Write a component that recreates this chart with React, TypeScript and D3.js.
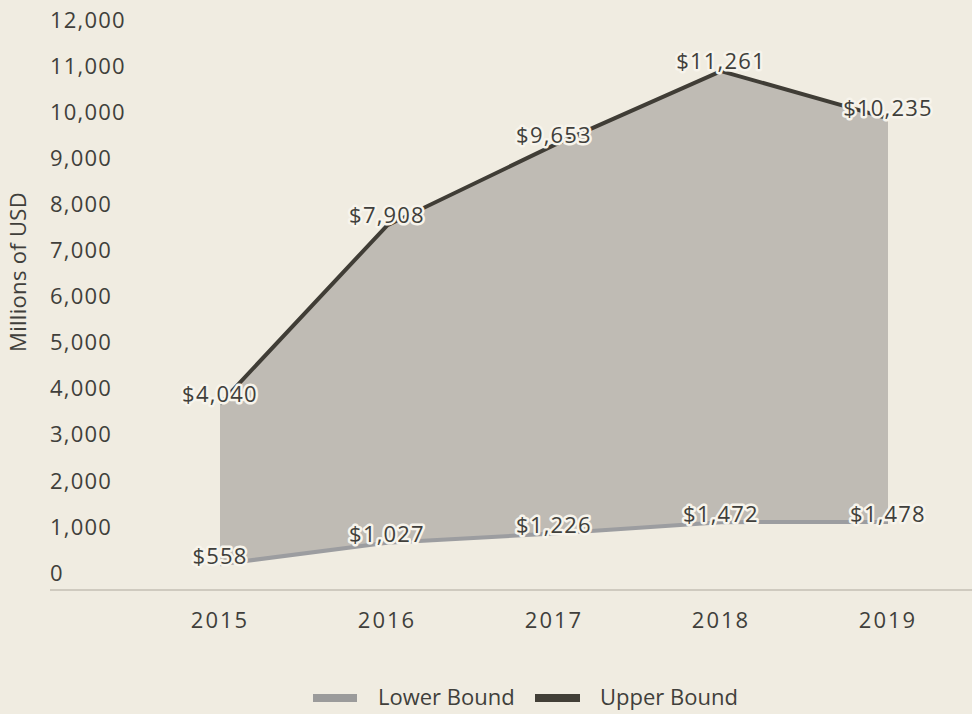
import React from 'react';
import * as d3 from 'd3';

const years = ['2015', '2016', '2017', '2018', '2019'];
const lowerBound = [558, 1027, 1226, 1472, 1478];
const upperBound = [4040, 7908, 9653, 11261, 10235];
const yTicks = [0, 1000, 2000, 3000, 4000, 5000, 6000, 7000, 8000, 9000, 10000, 11000, 12000];

const W = 972;
const H = 714;
const bg = '#f0ece1';
const textColor = '#403f3b';
const lowerColor = '#9c9da0';
const upperColor = '#403d36';
const areaColor = '#bfbbb4';
const font = '"Open Sans", sans-serif';

const App: React.FC = () => {
	const x = d3.scalePoint<string>().domain(years).range([220, 888]);
	const y = d3.scaleLinear().domain([0, 12000]).range([590, 37]);

	const rows = years.map((yr, i) => ({ yr, lo: lowerBound[i], hi: upperBound[i] }));

	const area = d3
		.area<(typeof rows)[number]>()
		.x((d) => x(d.yr)!)
		.y0((d) => y(d.lo))
		.y1((d) => y(d.hi));

	const line = (key: 'lo' | 'hi') =>
		d3
			.line<(typeof rows)[number]>()
			.x((d) => x(d.yr)!)
			.y((d) => y(d[key]))(rows) ?? '';

	const fmt = d3.format(',');

	const labelProps = {
		fontSize: 22,
		letterSpacing: 1.2,
		fill: textColor,
		textAnchor: 'middle' as const,
		stroke: '#f7f4ec',
		strokeWidth: 5,
		paintOrder: 'stroke',
		strokeLinejoin: 'round' as const,
	};

	return (
		<svg
			width={W}
			height={H}
			style={{ position: 'absolute', left: 0, top: 0, background: bg, fontFamily: font }}>
			<rect width={W} height={H} fill={bg} />

			{/* y tick labels sit above their tick positions */}
			{yTicks.map((t) => (
				<text key={t} x={50} y={y(t) - 17} dy="0.35em" fontSize={22} letterSpacing={1.2} fill={textColor}>
					{fmt(t)}
				</text>
			))}
			<text
				transform={`translate(18,${272}) rotate(-90)`}
				textAnchor="middle"
				dy="0.35em"
				fontSize={22}
				letterSpacing={0.3}
				fill={textColor}>
				Millions of USD
			</text>

			<path d={area(rows) ?? ''} fill={areaColor} />
			<path d={line('lo')} fill="none" stroke={lowerColor} strokeWidth={4} />
			<path d={line('hi')} fill="none" stroke={upperColor} strokeWidth={4} />

			<line x1={50} x2={W} y1={590} y2={590} stroke="#cfcabf" strokeWidth={2} />

			{years.map((yr) => (
				<text
					key={yr}
					x={x(yr)}
					y={620}
					dy="0.35em"
					textAnchor="middle"
					fontSize={22}
					letterSpacing={2}
					fill={textColor}>
					{yr}
				</text>
			))}

			{rows.map((d) => (
				<g key={d.yr}>
					<text x={x(d.yr)} y={y(d.hi) - 10} dy="0.35em" {...labelProps}>
						${fmt(d.hi)}
					</text>
					<text x={x(d.yr)} y={y(d.lo) - 8} dy="0.35em" {...labelProps}>
						${fmt(d.lo)}
					</text>
				</g>
			))}

			{/* legend */}
			<g fontSize={22} fill={textColor}>
				<rect x={313} y={694} width={44} height={8} fill="#9b9b9b" />
				<text x={378} y={697} dy="0.35em">
					Lower Bound
				</text>
				<rect x={535} y={694} width={45} height={8} fill="#423f37" />
				<text x={600} y={697} dy="0.35em">
					Upper Bound
				</text>
			</g>
		</svg>
	);
};

export default App;
